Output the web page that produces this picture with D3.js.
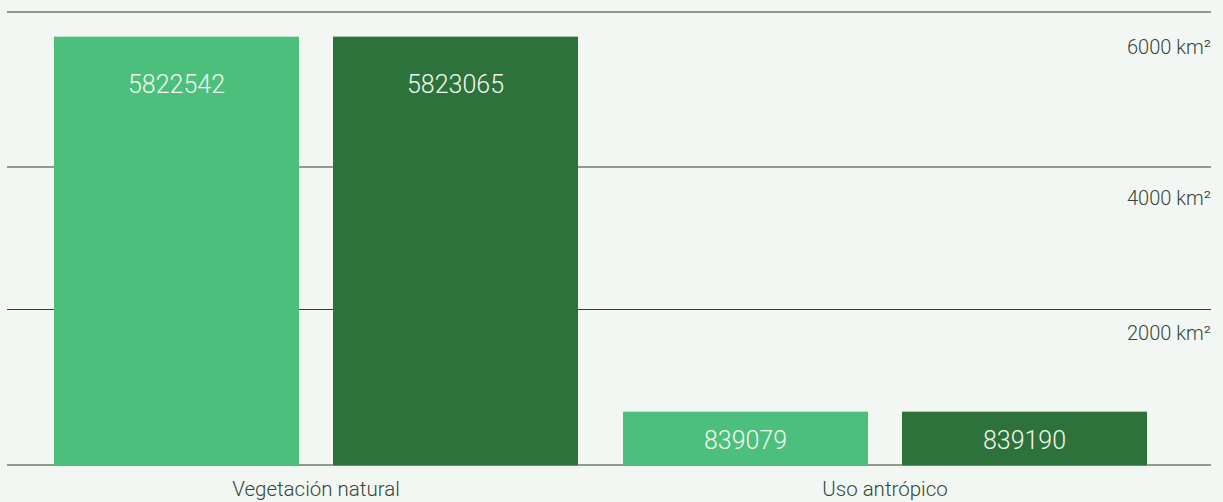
<!DOCTYPE html>
<html>
<head>
<meta charset="utf-8">
<script src="https://cdn.jsdelivr.net/npm/d3@7"></script>
<style>
  html, body { margin: 0; padding: 0; background: #f3f7f3; }
  svg { display: block; }
  text { font-family: Roboto, "Noto Sans", sans-serif; }
</style>
</head>
<body>
<svg id="chart" width="1223" height="502"></svg>
<script>
// Land-cover areas per category, two series (earlier / later survey)
const categories = ["Vegetación natural", "Uso antrópico"];
const seriesKeys = ["a", "b"];
const seriesA = [5822542, 839079];
const seriesB = [5823065, 839190];
const tickLabels = ["6000 km²", "4000 km²", "2000 km²"];

const W = 1223, H = 502;
const colors = { a: "#4bbf7b", b: "#2c723a" };
const ink = "#34463a";

const svg = d3.select("#chart");
svg.append("rect").attr("width", W).attr("height", H).attr("fill", "#f3f7f3");

// Value scale: the plot floor sits a little above zero
const y = d3.scaleLinear().domain([126400, 6150400]).range([465.3, 12]);

// Outer band per category, inner band per series
const x0 = d3.scaleBand().domain(categories).range([54, 1147]).paddingInner(45 / 569).paddingOuter(0);
const x1 = d3.scaleBand().domain(seriesKeys).range([0, x0.bandwidth()]).paddingInner(34 / 279).paddingOuter(0);

// Horizontal guide lines and their labels
const gridY = [12, 167, 309.5, 465];
const labelY = [53.5, 205, 340];
svg.append("g").selectAll("line").data(gridY).join("line")
  .attr("x1", 7).attr("x2", 1211)
  .attr("y1", d => d).attr("y2", d => d)
  .attr("stroke", "#2d4130").attr("stroke-width", 1);

svg.append("g").selectAll("text").data(tickLabels).join("text")
  .attr("x", 1211).attr("y", (d, i) => labelY[i])
  .attr("text-anchor", "end")
  .attr("font-size", 20).attr("font-weight", 300).attr("fill", ink)
  .text(d => d);

const rows = categories.map((c, i) => ({ cat: c, a: seriesA[i], b: seriesB[i] }));

const groups = svg.append("g").selectAll("g").data(rows).join("g")
  .attr("transform", d => `translate(${x0(d.cat)},0)`);

const bars = groups.selectAll("g").data(d => seriesKeys.map(k => ({ key: k, value: d[k] }))).join("g");

bars.append("rect")
  .attr("x", d => x1(d.key))
  .attr("width", x1.bandwidth())
  .attr("y", d => y(d.value))
  .attr("height", d => y.range()[0] - y(d.value))
  .attr("fill", d => colors[d.key]);

bars.append("text")
  .attr("x", d => x1(d.key) + x1.bandwidth() / 2)
  .attr("y", d => {
    const h = y.range()[0] - y(d.value);
    return y(d.value) + Math.min(56, h / 2 + 10.5);
  })
  .attr("text-anchor", "middle")
  .attr("font-size", 25).attr("font-weight", 300)
  .attr("fill", "#f2f7f1")
  .text(d => d.value);

// Category names under the baseline
svg.append("g").selectAll("text").data(categories).join("text")
  .attr("x", d => x0(d) + x0.bandwidth() / 2)
  .attr("y", 496)
  .attr("text-anchor", "middle")
  .attr("font-size", 20.5).attr("font-weight", 300).attr("fill", ink)
  .text(d => d);
</script>
</body>
</html>
